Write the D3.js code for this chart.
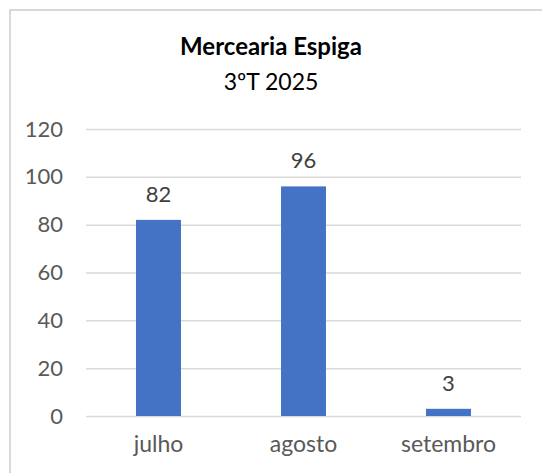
<!DOCTYPE html>
<html>
<head>
<meta charset="utf-8">
<script src="https://cdn.jsdelivr.net/npm/d3@7"></script>
<style>
  body { margin: 0; background: #fff; }
  text { font-family: Lato, "Open Sans", sans-serif; }
</style>
</head>
<body>
<div id="chart"></div>
<script>
// chart data
var months = ["julho", "agosto", "setembro"];
var sales = [82, 96, 3];
var yTicks = [0, 20, 40, 60, 80, 100, 120];
var title = "Mercearia Espiga";
var subtitle = "3ºT 2025";

var w = 542, h = 473;
// plot area edges
var plotLeft = 86, plotRight = 521, plotTop = 129, plotBottom = 416;

var svg = d3.select("#chart").append("svg")
    .attr("width", w)
    .attr("height", h);

// chart frame (runs off the right and bottom)
svg.append("rect")
    .attr("x", 10).attr("y", 10)
    .attr("width", 560).attr("height", 500)
    .attr("fill", "#fff")
    .attr("stroke", "#d9d9d9")
    .attr("stroke-width", 2);

var x = d3.scaleBand()
    .domain(months)
    .range([plotLeft, plotRight])
    .paddingInner(0.69)
    .paddingOuter(0.345);

var y = d3.scaleLinear()
    .domain([0, 120])
    .range([plotBottom, plotTop]);

// gridlines + y labels via axis
var yAxis = svg.append("g")
    .attr("transform", "translate(" + plotLeft + ",0)")
    .call(d3.axisLeft(y).tickValues(yTicks).tickSize(-(plotRight - plotLeft)).tickPadding(23));
yAxis.select(".domain").remove();
yAxis.selectAll(".tick line").attr("stroke", "#d9d9d9").attr("stroke-width", 1.5);
yAxis.selectAll(".tick text")
    .attr("fill", "#595959")
    .style("font-size", "22px")
    .style("font-family", "Lato, sans-serif");

// x labels
var xAxis = svg.append("g")
    .attr("transform", "translate(0," + plotBottom + ")")
    .call(d3.axisBottom(x).tickSize(0).tickPadding(20));
xAxis.select(".domain").remove();
xAxis.selectAll(".tick text")
    .attr("fill", "#595959")
    .style("font-size", "23px")
    .style("font-family", "Lato, sans-serif");

// bars
svg.selectAll("rect.bar")
    .data(sales)
    .enter()
    .append("rect")
    .attr("class", "bar")
    .attr("x", function(d, i) { return x(months[i]); })
    .attr("y", function(d) { return y(d); })
    .attr("width", x.bandwidth())
    .attr("height", function(d) { return plotBottom - y(d); })
    .attr("fill", "#4472c4");

// value labels
svg.selectAll("text.val")
    .data(sales)
    .enter()
    .append("text")
    .attr("class", "val")
    .attr("x", function(d, i) { return x(months[i]) + x.bandwidth() / 2; })
    .attr("y", function(d) { return y(d) - 18; })
    .attr("text-anchor", "middle")
    .attr("fill", "#404040")
    .style("font-size", "22px")
    .text(function(d) { return d; });

// titles
svg.append("text")
    .attr("x", 271).attr("y", 55)
    .attr("text-anchor", "middle")
    .attr("fill", "#000")
    .style("font-size", "24px")
    .style("font-weight", "bold")
    .text(title);

svg.append("text")
    .attr("x", 271).attr("y", 90)
    .attr("text-anchor", "middle")
    .attr("fill", "#000")
    .style("font-size", "23px")
    .text(subtitle);
</script>
</body>
</html>
